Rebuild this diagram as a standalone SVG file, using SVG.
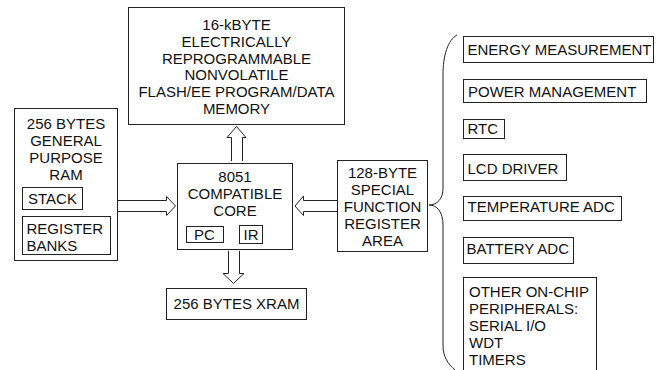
<svg xmlns="http://www.w3.org/2000/svg" width="665" height="370" viewBox="0 0 665 370">
<style>
rect{fill:#fff;stroke:#222;stroke-width:1}
text{font-family:"Liberation Sans",Arial,sans-serif;font-size:15px;fill:#111}
.c{text-anchor:middle}
.conn path{fill:none;stroke:#222;stroke-width:1}
</style>
<rect x="0" y="0" width="665" height="370" style="stroke:none"/>
<g id="flash">
<rect x="128.5" y="7.5" width="216" height="117"/>
<text class="c" x="236.5" y="30">16-kBYTE</text>
<text class="c" x="236.5" y="47">ELECTRICALLY</text>
<text class="c" x="236.5" y="63.5">REPROGRAMMABLE</text>
<text class="c" x="236.5" y="80">NONVOLATILE</text>
<text class="c" x="236.5" y="97">FLASH/EE PROGRAM/DATA</text>
<text class="c" x="236.5" y="113.5">MEMORY</text>
</g>
<g id="ram">
<rect x="14.5" y="108.5" width="103" height="152"/>
<text class="c" x="66" y="129">256 BYTES</text>
<text class="c" x="66" y="146">GENERAL</text>
<text class="c" x="66" y="163">PURPOSE</text>
<text class="c" x="66" y="179.5">RAM</text>
</g>
<g id="stack">
<rect x="22.5" y="187.5" width="60" height="22"/>
<text class="c" x="52.5" y="204">STACK</text>
</g>
<g id="banks">
<rect x="22.5" y="216.5" width="88" height="38"/>
<text x="26.5" y="234">REGISTER</text>
<text x="26.5" y="251">BANKS</text>
</g>
<g id="core">
<rect x="177.5" y="163.5" width="115" height="86"/>
<text class="c" x="235" y="182">8051</text>
<text class="c" x="235" y="199">COMPATIBLE</text>
<text class="c" x="235" y="216">CORE</text>
</g>
<g id="pc">
<rect x="186.5" y="226.5" width="37" height="16"/>
<text class="c" x="204.5" y="240">PC</text>
</g>
<g id="ir">
<rect x="239.5" y="225.5" width="23" height="18"/>
<text class="c" x="251" y="240">IR</text>
</g>
<g id="xram">
<rect x="166.5" y="288.5" width="140" height="31"/>
<text class="c" x="236.5" y="309">256 BYTES XRAM</text>
</g>
<g id="sfr">
<rect x="337.5" y="160.5" width="90" height="91"/>
<text class="c" x="382.5" y="178">128-BYTE</text>
<text class="c" x="382.5" y="195">SPECIAL</text>
<text class="c" x="382.5" y="212">FUNCTION</text>
<text class="c" x="382.5" y="229">REGISTER</text>
<text class="c" x="382.5" y="246">AREA</text>
</g>
<g id="energy">
<rect x="463.5" y="36.5" width="190" height="26"/>
<text x="467.5" y="55">ENERGY MEASUREMENT</text>
</g>
<g id="power">
<rect x="463.5" y="79.5" width="183" height="23"/>
<text x="468" y="97">POWER MANAGEMENT</text>
</g>
<g id="rtc">
<rect x="463.5" y="119.5" width="41" height="19"/>
<text x="467.5" y="134">RTC</text>
</g>
<g id="lcd">
<rect x="463.5" y="154.5" width="103" height="26"/>
<text x="467.5" y="174">LCD DRIVER</text>
</g>
<g id="temp">
<rect x="463.5" y="196.5" width="158" height="24"/>
<text x="467.5" y="212">TEMPERATURE ADC</text>
</g>
<g id="battery">
<rect x="463.5" y="237.5" width="110" height="26"/>
<text x="466.5" y="254">BATTERY ADC</text>
</g>
<g id="other">
<rect x="463.5" y="277.5" width="133" height="100"/>
<text x="469" y="297">OTHER ON-CHIP</text>
<text x="469" y="314">PERIPHERALS:</text>
<text x="469" y="331">SERIAL I/O</text>
<text x="469" y="348">WDT</text>
<text x="469" y="365">TIMERS</text>
</g>
<g id="connectors" class="conn">
<path d="M231.5,161 V137.5 H227 L236.5,126.5 L246,137.5 H242.5 V161"/>
<path d="M228.5,251 V273.5 H223 L233.5,283.5 L244,273.5 H239.5 V251"/>
<path d="M118,200.5 H166.5 V196.5 L175.5,206 L166.5,215.5 V211.5 H118"/>
<path d="M337,200.5 H303.5 V196 L295,206 L303.5,215.5 V211.5 H337"/>
<path d="M457,35 C448,40 443,55 443,75 V188 C443,199 437,205 429,205 C437,205 443,212 443,225 V345 C443,357 448,364 455,370"/>
</g>
</svg>
